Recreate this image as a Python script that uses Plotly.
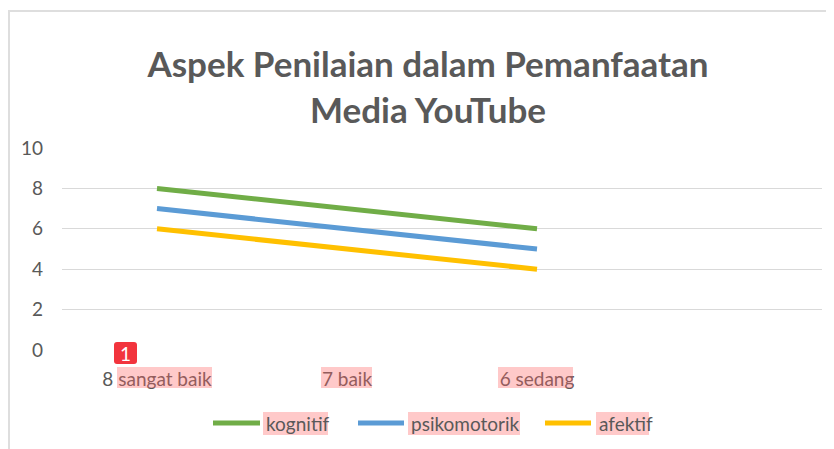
import plotly.graph_objects as go

# data
categories = ["8 sangat baik", "7 baik", "6 sedang", " "]
kognitif = [8, 7, 6]
psikomotorik = [7, 6, 5]
afektif = [6, 5, 4]

series = {
    "kognitif": (kognitif, "#70AD47"),
    "psikomotorik": (psikomotorik, "#5B9BD5"),
    "afektif": (afektif, "#FFC000"),
}

font_name = "Lato"
grey = "#595959"


# reference-pixel -> paper coords (plot area is x 62..822, y 148..350)
def px(x):
    return (x - 62) / 760


def py(y):
    return (350 - y) / 202


fig = go.Figure()
for name, (vals, col) in series.items():
    fig.add_trace(
        go.Scatter(
            x=categories[: len(vals)],
            y=vals,
            name=name,
            mode="lines",
            line=dict(color=col, width=5),
            showlegend=False,
        )
    )

# page body has an 8px margin, so the figure is 8px smaller than the window
fig.update_layout(
    width=826,
    height=441,
    plot_bgcolor="white",
    paper_bgcolor="white",
    margin=dict(l=54, r=12, t=140, b=99),
    font=dict(family=font_name, size=19, color=grey),
    title=dict(
        text="Aspek Penilaian dalam Pemanfaatan<br>Media YouTube",
        x=420 / 826,
        xanchor="center",
        y=1 - 69 / 441,
        yanchor="middle",
        font=dict(family=font_name, size=35, color=grey, weight="bold"),
    ),
)

fig.update_xaxes(
    type="category",
    categoryorder="array",
    categoryarray=categories,
    range=[-0.5, 3.5],
    showgrid=False,
    showline=False,
    zeroline=False,
    ticks="",
    ticklabelstandoff=16,
    tickfont=dict(size=19, color=grey),
)

fig.update_yaxes(
    range=[0, 10],
    dtick=2,
    showgrid=True,
    gridcolor="#d9d9d9",
    gridwidth=1,
    zeroline=False,
    showline=False,
    ticks="",
    ticklabelstandoff=18,
    tickfont=dict(size=19, color=grey),
)

# chart area border (top and left visible)
fig.add_shape(
    type="rect", xref="paper", yref="paper",
    x0=(1 - 54) / 760, x1=1.5, y0=-0.6, y1=py(11),
    line=dict(color="#dedede", width=2), layer="below",
)

# legend drawn below the plot, Excel style (long line + label)
legend_pos = [(211, 262, 264), (356, 406, 409), (543, 593, 597)]
for (name, (vals, col)), (l0, l1, tx) in zip(series.items(), legend_pos):
    fig.add_shape(
        type="line", xref="paper", yref="paper",
        x0=px(l0 + 2), x1=px(l1 - 2), y0=py(423), y1=py(423),
        line=dict(color=col, width=5),
    )
    fig.add_annotation(
        text=name, xref="paper", yref="paper",
        x=px(tx), y=py(423), xanchor="left", yanchor="middle",
        showarrow=False, font=dict(size=19, color=grey),
    )

# pink highlight annotations from the source document
hl = "rgba(255,100,100,0.35)"
for x0, x1, y0, y1 in [
    (117, 212, 367, 388),
    (321, 372, 367, 388),
    (498, 573, 367, 388),
    (263, 328, 412, 435),
    (408, 520, 412, 435),
    (596, 649, 412, 435),
]:
    fig.add_shape(
        type="rect", xref="paper", yref="paper",
        x0=px(x0), x1=px(x1), y0=py(y1), y1=py(y0),
        fillcolor=hl, line=dict(width=0), layer="above",
    )

# red comment badge
bx0, bx1, by0, by1, r = 114, 137, 342, 364, 3
badge = (
    f"M {px(bx0 + r)},{py(by0)} L {px(bx1 - r)},{py(by0)} "
    f"Q {px(bx1)},{py(by0)} {px(bx1)},{py(by0 + r)} "
    f"L {px(bx1)},{py(by1 - r)} Q {px(bx1)},{py(by1)} {px(bx1 - r)},{py(by1)} "
    f"L {px(bx0 + r)},{py(by1)} Q {px(bx0)},{py(by1)} {px(bx0)},{py(by1 - r)} "
    f"L {px(bx0)},{py(by0 + r)} Q {px(bx0)},{py(by0)} {px(bx0 + r)},{py(by0)} Z"
)
fig.add_shape(
    type="path", xref="paper", yref="paper", path=badge,
    fillcolor="#F2343D", line=dict(width=0), layer="above",
)
fig.add_annotation(
    text="1", xref="paper", yref="paper",
    x=px(125.5), y=py(353), xanchor="center", yanchor="middle",
    showarrow=False, font=dict(family=font_name, size=19, color="white"),
)

fig.write_html("out.html")
